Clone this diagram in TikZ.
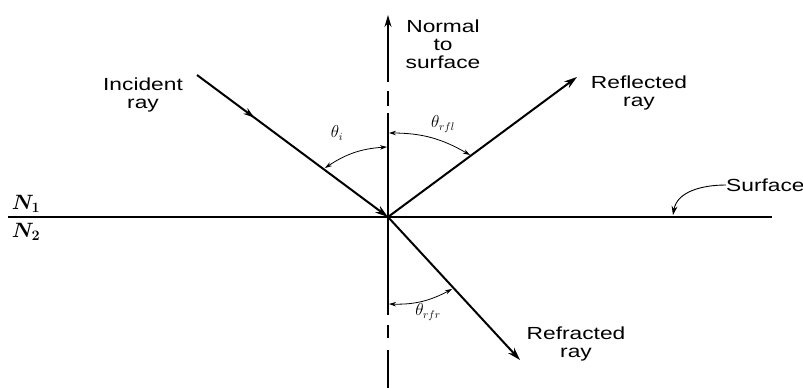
\documentclass[tikz,border=0pt]{standalone}
\usepackage{fontspec}
\setmainfont{Liberation Sans}[FakeStretch=1.3]
\usepackage{tikz}
\usetikzlibrary{arrows.meta,positioning,calc,decorations.markings}

\begin{document}
\begin{tikzpicture}[
  x=1pt, y=1pt,
  ray/.style={line width=2pt, -{Stealth[length=13pt,width=8pt]}},
  midarr/.style={postaction={decorate}, decoration={markings, mark=at position 0.3 with {\arrow{Stealth[length=11pt,width=7pt]}}}},
  normalline/.style={line width=1.5pt},
  surfline/.style={line width=1.6pt},
  angarr/.style={line width=0.8pt, {Stealth[length=7pt,width=4.5pt]}-{Stealth[length=7pt,width=4.5pt]}},
  lblarr/.style={line width=0.9pt, -{Stealth[length=9pt,width=6pt]}},
  lbl/.style={inner sep=0pt, align=center, font=\fontsize{17.5}{18}\selectfont},
  ang/.style={inner sep=0pt, font=\fontsize{16}{18}\selectfont}
]
\useasboundingbox (0,0) rectangle (803,-388);

% Points
\coordinate (O) at (388,-217);
\coordinate (inc) at (197,-75);
\coordinate (rfl) at (577,-77);
\coordinate (rfr) at (520,-360);
\coordinate (nt) at (388,-15);
\coordinate (sl) at (8,-217);
\coordinate (sr) at (772,-217);
\coordinate (sp) at (673,-215);

% Surface
\draw[surfline] (sl) -- (sr);

% Normal
\draw[normalline, -{Stealth[length=12pt,width=7pt]}] (388,-82) -- (nt);
\foreach \a/\b in {91/106,113/315,325/338,350/388}
  \draw[normalline] (388,-\a) -- (388,-\b);

% Rays
\draw[ray, midarr] (inc) -- (O);
\draw[ray] (O) -- (rfl);
\draw[ray] (O) -- (rfr);

% Angles
\coordinate (ai1) at (325,-168);
\coordinate (ai2) at (387,-147);
\coordinate (al1) at (389,-133);
\coordinate (al2) at (470,-155);
\coordinate (ar1) at (389,-304);
\coordinate (ar2) at (452,-289);
\draw[angarr] (ai1) to[bend left=15] (ai2);
\draw[angarr] (al1) to[bend left=15] (al2);
\draw[angarr] (ar1) to[bend right=15] (ar2);
\node[ang] (thi) at (337,-133) {$\theta_i$};
\node[ang] (thl) at (443,-124) {$\theta_{rfl}$};
\node[ang] (thr) at (428,-312) {$\theta_{rfr}$};

% Labels
\node[lbl] (normal) at (443,-44) {Normal\\to\\surface};
\node[lbl] (incident) at (143,-95) {Incident\\ray};
\node[lbl] (reflected) at (639,-93) {Reflected\\ray};
\node[lbl] (refracted) at (576,-344) {Refracted\\ray};
\node[lbl, anchor=west] (surface) at (726,-185) {Surface};
\node[ang, font=\fontsize{20}{22}\selectfont\boldmath] (n1) at (26,-204) {$N_1$};
\node[ang, font=\fontsize{20}{22}\selectfont\boldmath] (n2) at (26,-232) {$N_2$};

\draw[lblarr] (surface.west) to[out=180,in=80] (sp);

\end{tikzpicture}
\end{document}
